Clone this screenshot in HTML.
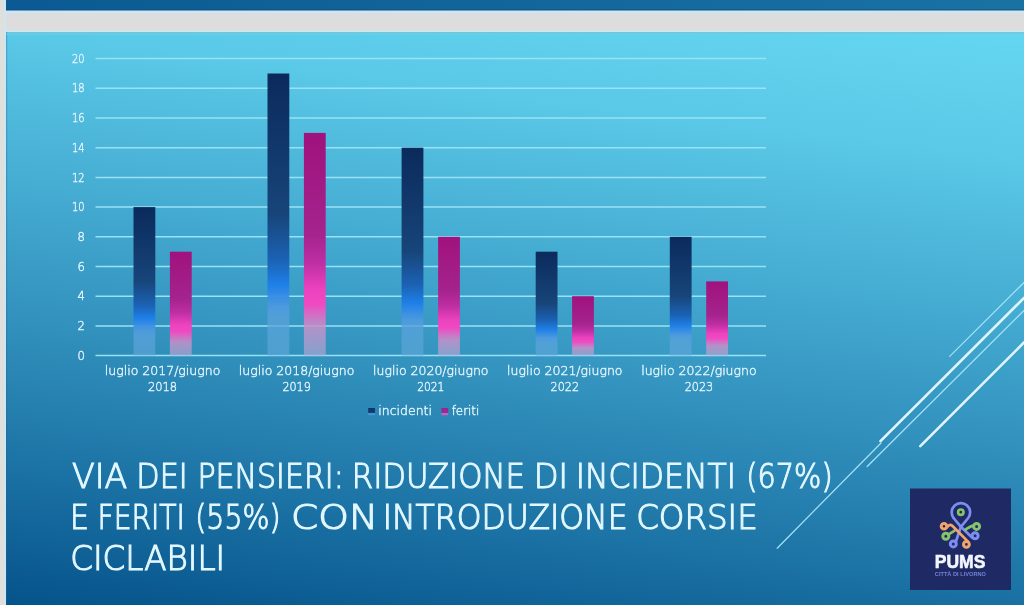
<!DOCTYPE html>
<html><head><meta charset="utf-8">
<style>
html,body{margin:0;padding:0;width:1024px;height:605px;overflow:hidden;background:#dddddd;}
svg{position:absolute;left:0;top:0;filter:blur(0.35px);}
</style></head>
<body>
<svg width="1024" height="605" viewBox="0 0 1024 605">
<defs>
<linearGradient id="topbar" x1="0" y1="0" x2="1" y2="0">
<stop offset="0" stop-color="#0b5a93"/><stop offset="1" stop-color="#1a72a3"/>
</linearGradient>
<linearGradient id="bg" gradientUnits="userSpaceOnUse" x1="1024" y1="20" x2="936.3" y2="721.3">
<stop offset="0.00" stop-color="#66d8f2"/>
<stop offset="0.20" stop-color="#5ac8e7"/>
<stop offset="0.40" stop-color="#46add3"/>
<stop offset="0.60" stop-color="#3291bd"/>
<stop offset="0.80" stop-color="#1c73a5"/>
<stop offset="1.00" stop-color="#05538b"/>
</linearGradient>
<linearGradient id="ginc" x1="0" y1="0" x2="0" y2="1">
<stop offset="0" stop-color="#0b2a5c"/>
<stop offset="0.5" stop-color="#17457a"/>
<stop offset="0.66" stop-color="#1b62b4"/>
<stop offset="0.75" stop-color="#1f80e8"/>
<stop offset="0.83" stop-color="#4f9ae0" stop-opacity="0.9"/>
<stop offset="0.87" stop-color="#5aa2dc" stop-opacity="0.75"/>
<stop offset="1" stop-color="#62a8dc" stop-opacity="0.6"/>
</linearGradient>
<linearGradient id="gfer" x1="0" y1="0" x2="0" y2="1">
<stop offset="0" stop-color="#a0127e"/>
<stop offset="0.45" stop-color="#a4238c"/>
<stop offset="0.58" stop-color="#bd2ea3"/>
<stop offset="0.7" stop-color="#ec42be"/>
<stop offset="0.77" stop-color="#f04ac2"/>
<stop offset="0.87" stop-color="#c890c8" stop-opacity="0.85"/>
<stop offset="1" stop-color="#b0a8d4" stop-opacity="0.65"/>
</linearGradient>
<linearGradient id="linc" x1="0" y1="0" x2="0" y2="1">
<stop offset="0" stop-color="#0c3566"/><stop offset="0.62" stop-color="#0f3f74"/><stop offset="0.75" stop-color="#4a92d8"/><stop offset="1" stop-color="#4a92d8"/>
</linearGradient>
<linearGradient id="lfer" x1="0" y1="0" x2="0" y2="1">
<stop offset="0" stop-color="#962592"/><stop offset="0.62" stop-color="#9a2a98"/><stop offset="0.75" stop-color="#b46cc0"/><stop offset="1" stop-color="#b46cc0"/>
</linearGradient>
</defs>
<rect x="6" y="0" width="1018" height="10.5" fill="url(#topbar)"/>
<rect x="6" y="9.2" width="1018" height="1.5" fill="#0e4d7e" opacity="0.6"/>
<rect x="6" y="10.7" width="1018" height="2.3" fill="#c9e7f6"/>
<rect x="0" y="30.6" width="1024" height="1.6" fill="#cbe9ef"/>
<rect x="0" y="0" width="6" height="605" fill="#dfe0dc"/>
<rect x="4" y="0" width="2" height="605" fill="#cde6f6"/>
<rect x="6" y="32" width="1018" height="573" fill="url(#bg)"/>
<rect x="6" y="32" width="1018" height="1.8" fill="#78c4d8" opacity="0.8"/>
<rect x="6" y="32" width="1.2" height="573" fill="#2a6888" opacity="0.35"/>
<rect x="6" y="33.8" width="1018" height="1.2" fill="#5ed8f2" opacity="0.6"/>
<g stroke="#98e2f7" stroke-width="1.5">
<line x1="95.5" y1="355.6" x2="766.0" y2="355.6"/>
<line x1="95.5" y1="325.9" x2="766.0" y2="325.9"/>
<line x1="95.5" y1="296.2" x2="766.0" y2="296.2"/>
<line x1="95.5" y1="266.5" x2="766.0" y2="266.5"/>
<line x1="95.5" y1="236.8" x2="766.0" y2="236.8"/>
<line x1="95.5" y1="207.1" x2="766.0" y2="207.1"/>
<line x1="95.5" y1="177.4" x2="766.0" y2="177.4"/>
<line x1="95.5" y1="147.7" x2="766.0" y2="147.7"/>
<line x1="95.5" y1="118.0" x2="766.0" y2="118.0"/>
<line x1="95.5" y1="88.3" x2="766.0" y2="88.3"/>
<line x1="95.5" y1="58.6" x2="766.0" y2="58.6"/>
</g>
<g font-family="DejaVu Sans, sans-serif" font-weight="200" stroke="#def3fb" stroke-width="0.45" fill="#def3fb" font-size="11.6" text-anchor="end">
<text x="84.8" y="359.7">0</text>
<text x="84.8" y="330.0">2</text>
<text x="84.8" y="300.3">4</text>
<text x="84.8" y="270.6">6</text>
<text x="84.8" y="240.9">8</text>
<text x="72" y="211.2" textLength="12.6" lengthAdjust="spacingAndGlyphs" text-anchor="start">10</text>
<text x="72" y="181.5" textLength="12.6" lengthAdjust="spacingAndGlyphs" text-anchor="start">12</text>
<text x="72" y="151.8" textLength="12.6" lengthAdjust="spacingAndGlyphs" text-anchor="start">14</text>
<text x="72" y="122.1" textLength="12.6" lengthAdjust="spacingAndGlyphs" text-anchor="start">16</text>
<text x="72" y="92.4" textLength="12.6" lengthAdjust="spacingAndGlyphs" text-anchor="start">18</text>
<text x="72" y="62.7" textLength="12.6" lengthAdjust="spacingAndGlyphs" text-anchor="start">20</text>
</g>
<rect x="133.5" y="207.1" width="21.8" height="148.5" fill="url(#ginc)"/>
<rect x="169.9" y="251.7" width="21.8" height="104.0" fill="url(#gfer)"/>
<rect x="267.5" y="73.5" width="21.8" height="282.1" fill="url(#ginc)"/>
<rect x="303.9" y="132.9" width="21.8" height="222.8" fill="url(#gfer)"/>
<rect x="401.6" y="147.7" width="21.8" height="207.9" fill="url(#ginc)"/>
<rect x="438.1" y="236.8" width="21.8" height="118.8" fill="url(#gfer)"/>
<rect x="535.7" y="251.7" width="21.8" height="104.0" fill="url(#ginc)"/>
<rect x="572.1" y="296.2" width="21.8" height="59.4" fill="url(#gfer)"/>
<rect x="669.8" y="236.8" width="21.8" height="118.8" fill="url(#ginc)"/>
<rect x="706.2" y="281.4" width="21.8" height="74.2" fill="url(#gfer)"/>
<g font-family="DejaVu Sans, sans-serif" font-weight="200" stroke="#def3fb" stroke-width="0.45" fill="#def3fb" font-size="12.5" text-anchor="middle">
<text x="162.6" y="375.3">luglio 2017/giugno</text><text x="162.6" y="390.6" textLength="29.1" lengthAdjust="spacingAndGlyphs">2018</text>
<text x="296.6" y="375.3">luglio 2018/giugno</text><text x="296.6" y="390.6" textLength="28.4" lengthAdjust="spacingAndGlyphs">2019</text>
<text x="430.8" y="375.3">luglio 2020/giugno</text><text x="430.8" y="390.6" textLength="27.3" lengthAdjust="spacingAndGlyphs">2021</text>
<text x="564.8" y="375.3">luglio 2021/giugno</text><text x="564.8" y="390.6" textLength="28.5" lengthAdjust="spacingAndGlyphs">2022</text>
<text x="698.9" y="375.3">luglio 2022/giugno</text><text x="698.9" y="390.6" textLength="28.4" lengthAdjust="spacingAndGlyphs">2023</text>
</g>
<rect x="368.2" y="408" width="6.8" height="7.2" fill="url(#linc)"/>
<rect x="441.4" y="408" width="6.8" height="7.2" fill="url(#lfer)"/>
<g font-family="DejaVu Sans, sans-serif" font-weight="200" stroke="#def3fb" stroke-width="0.45" fill="#def3fb" font-size="12.5">
<text x="378.3" y="415.3">incidenti</text>
<text x="451.7" y="415.3" textLength="27.6" lengthAdjust="spacingAndGlyphs">feriti</text>
</g>
<g stroke="#dff6ff" stroke-linecap="round">
<line x1="1024" y1="282.5" x2="949.7" y2="356.4" stroke-width="1.25" stroke="#a2e2f7"/>
<line x1="1024" y1="297.8" x2="880.5" y2="441.2" stroke-width="2.6"/>
<line x1="1024" y1="310.5" x2="867.2" y2="466.5" stroke-width="1.25" stroke="#a2e2f7"/>
<line x1="1024" y1="342.5" x2="920.3" y2="446.2" stroke-width="2.6"/>
<line x1="881" y1="443" x2="777.2" y2="548.2" stroke-width="1.25" stroke="#a2e2f7"/>
</g>
<g font-family="DejaVu Sans, sans-serif" font-weight="200" font-size="33" fill="#e2f7ff" stroke="#e2f7ff" stroke-width="1.1" lengthAdjust="spacingAndGlyphs">
<text x="72.1" y="487.6" textLength="55.2" lengthAdjust="spacingAndGlyphs">VIA</text>
<text x="136.35" y="487.6" textLength="51.41" lengthAdjust="spacingAndGlyphs">DEI</text>
<text x="197.47" y="487.6" textLength="146.35" lengthAdjust="spacingAndGlyphs">PENSIERI:</text>
<text x="351.8" y="487.6" textLength="173.13" lengthAdjust="spacingAndGlyphs">RIDUZIONE</text>
<text x="533.67" y="487.6" textLength="34.31" lengthAdjust="spacingAndGlyphs">DI</text>
<text x="575.74" y="487.6" textLength="160.36" lengthAdjust="spacingAndGlyphs">INCIDENTI</text>
<text x="746.29" y="487.6" textLength="86.32" lengthAdjust="spacingAndGlyphs">(67%)</text>
<text x="69.96" y="529" textLength="19.03" lengthAdjust="spacingAndGlyphs">E</text>
<text x="97.44" y="529" textLength="87.46" lengthAdjust="spacingAndGlyphs">FERITI</text>
<text x="195.22" y="529" textLength="85.36" lengthAdjust="spacingAndGlyphs">(55%)</text>
<text x="291.14" y="529" textLength="87.01" lengthAdjust="spacingAndGlyphs">CON</text>
<text x="382.73" y="529" textLength="244.89" lengthAdjust="spacingAndGlyphs">INTRODUZIONE</text>
<text x="636.13" y="529" textLength="121.62" lengthAdjust="spacingAndGlyphs">CORSIE</text>
<text x="70.23" y="570" textLength="154.93" lengthAdjust="spacingAndGlyphs">CICLABILI</text>
</g>

<rect x="910" y="488.5" width="101" height="101.5" fill="#1f2a64"/>
<g fill="none" stroke-width="2.7" stroke-linecap="round" stroke-linejoin="round">
<path stroke="#7d8ef0" d="M 953.6 518.0 A 9.2 9.2 0 1 1 968.2 518.0 L 960.9 526.8 L 956.0 541.2"/>
<path stroke="#7d8ef0" d="M 953.6 518.0 L 960.9 526.8 L 972.0 537.4"/>
<circle cx="953.3" cy="543.9" r="3.0" stroke="#7d8ef0" stroke-width="3"/>
<circle cx="975.1" cy="535.8" r="3.0" stroke="#7d8ef0" stroke-width="3"/>
<circle cx="945.8" cy="536.3" r="3.0" stroke="#86c46c" stroke-width="3"/>
<path stroke="#86c46c" d="M 948.3 534.6 L 954.6 530.7"/>
<circle cx="976.6" cy="526.4" r="3.0" stroke="#86c46c" stroke-width="3"/>
<path stroke="#86c46c" d="M 973.8 525.6 C 971 525.4, 968 528.2, 965.4 529.8"/>
<circle cx="960.8" cy="512.2" r="2.7" stroke="#86c46c" stroke-width="2.6"/>
<circle cx="944.0" cy="526.3" r="2.8" stroke="#f2a56a" stroke-width="3"/>
<path stroke="#f2a56a" d="M 946.7 527.3 C 948 526.5, 948.8 524.6, 950.6 524.9 C 951.8 525.1, 952.5 525.9, 953.3 526.8 L 968.0 541.6"/>
<circle cx="966.4" cy="544.4" r="2.9" stroke="#f2a56a" stroke-width="3"/>
</g>
<text x="934.8" y="568" font-family="Liberation Sans, sans-serif" font-weight="bold" font-size="18.6" fill="#f4f6ff" stroke="#f4f6ff" stroke-width="0.6" textLength="50.6" lengthAdjust="spacingAndGlyphs">PUMS</text>
<text x="934.8" y="576.4" font-family="Liberation Sans, sans-serif" font-weight="bold" font-size="5.6" fill="#7282d4" textLength="51.2" lengthAdjust="spacingAndGlyphs">CITTÀ DI LIVORNO</text>

</svg>
</body></html>
